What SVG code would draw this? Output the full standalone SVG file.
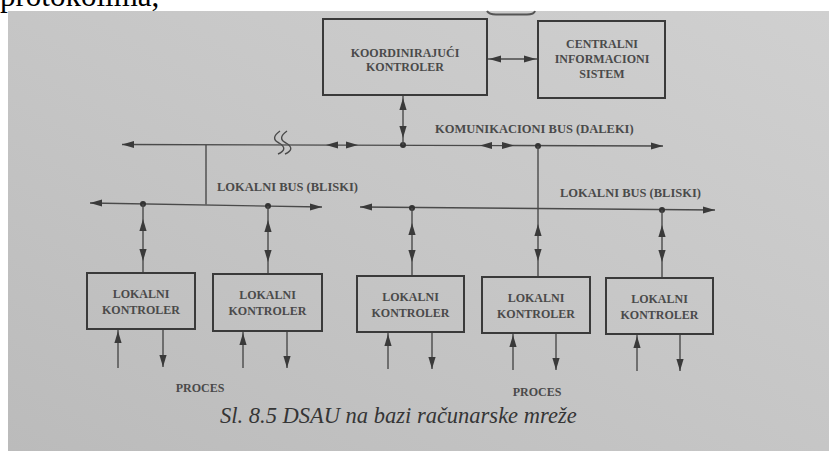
<svg xmlns="http://www.w3.org/2000/svg" xmlns:xlink="http://www.w3.org/1999/xlink" width="829" height="451" viewBox="0 0 829 451">
  <defs>
    <linearGradient id="paper" x1="1" y1="0" x2="0" y2="1">
      <stop offset="0" stop-color="#d0d0d0"/>
      <stop offset="0.5" stop-color="#c6c6c6"/>
      <stop offset="1" stop-color="#bbbbbb"/>
    </linearGradient>
    <!-- arrowhead, tip at origin, pointing +x -->
    <path id="ah" d="M0 0 L-12 -3.6 L-12 3.6 Z" fill="#3a3a3a"/>
    <style>
      .box { fill: none; stroke: #3a3a3a; stroke-width: 2; }
      .ln { fill: none; stroke: #4a4a4a; stroke-width: 1.4; }
      .dot { fill: #333; }
      text { font-family: 'Liberation Serif', 'Times New Roman', 'DejaVu Serif', serif; }
      .lbl { font-weight: bold; font-size: 12px; fill: #4a4a4a; text-anchor: middle; }
      .bus { font-weight: bold; font-size: 12.5px; fill: #4a4a4a; }
      .cap { font-style: italic; font-size: 22.5px; fill: #353535; }
    </style>
  </defs>

  <!-- page -->
  <rect x="0" y="0" width="829" height="451" fill="#ffffff"/>
  <text x="0" y="6" font-family="'Liberation Serif', serif" font-size="31" fill="#000">protokolima,</text>
  <rect x="8" y="11" width="821" height="440" fill="url(#paper)"/>
  <path d="M487 11 Q489 14.5 496 14.5 L527 14.5 Q534 14.5 535 11" fill="none" stroke="#555" stroke-width="2"/>

  <!-- connectors -->
  <g id="connectors">
    <!-- komunikacioni bus -->
    <line class="ln" x1="122" y1="144.5" x2="663" y2="146"/>
    <use xlink:href="#ah" transform="translate(122,144.5) rotate(180)"/>
    <use xlink:href="#ah" transform="translate(663,146)"/>
    <use xlink:href="#ah" transform="translate(326,145) rotate(180)"/>
    <use xlink:href="#ah" transform="translate(358,145)"/>
    <use xlink:href="#ah" transform="translate(480,145.5) rotate(180)"/>
    <use xlink:href="#ah" transform="translate(514,145.5)"/>
    <path class="ln" d="M280 131 C273 136 273 140 279 143 C286 147 285 151 278 154"/>
    <path class="ln" d="M287 131 C280 136 280 140 286 143 C293 147 292 151 285 154"/>
    <circle class="dot" cx="403" cy="145" r="3"/>
    <circle class="dot" cx="538" cy="146" r="3"/>

    <!-- koordinirajuci to bus -->
    <line class="ln" x1="403" y1="95" x2="403" y2="145"/>
    <use xlink:href="#ah" transform="translate(403,98) rotate(-90)"/>
    <use xlink:href="#ah" transform="translate(403,138) rotate(90)"/>

    <!-- koordinirajuci to centralni -->
    <line class="ln" x1="487" y1="59" x2="538" y2="59"/>
    <use xlink:href="#ah" transform="translate(489,59) rotate(180)"/>
    <use xlink:href="#ah" transform="translate(536,59)"/>

    <!-- left local bus -->
    <line class="ln" x1="206" y1="145" x2="206" y2="204.5"/>
    <line class="ln" x1="90" y1="203" x2="322" y2="207"/>
    <use xlink:href="#ah" transform="translate(90,203) rotate(180)"/>
    <use xlink:href="#ah" transform="translate(322,207)"/>
    <circle class="dot" cx="143" cy="204" r="3"/>
    <circle class="dot" cx="268" cy="206" r="3"/>

    <!-- right local bus -->
    <line class="ln" x1="360" y1="207" x2="715" y2="210"/>
    <use xlink:href="#ah" transform="translate(360,207) rotate(180)"/>
    <use xlink:href="#ah" transform="translate(715,210)"/>
    <circle class="dot" cx="412" cy="208" r="3"/>
    <circle class="dot" cx="662" cy="210" r="3"/>

    <!-- drops to local controllers -->
    <line class="ln" x1="143" y1="204" x2="143" y2="273"/>
    <use xlink:href="#ah" transform="translate(143,219) rotate(-90)"/>
    <use xlink:href="#ah" transform="translate(143,261) rotate(90)"/>
    <line class="ln" x1="268" y1="206" x2="268" y2="274"/>
    <use xlink:href="#ah" transform="translate(268,220) rotate(-90)"/>
    <use xlink:href="#ah" transform="translate(268,262) rotate(90)"/>
    <line class="ln" x1="412" y1="208" x2="412" y2="276"/>
    <use xlink:href="#ah" transform="translate(412,223) rotate(-90)"/>
    <use xlink:href="#ah" transform="translate(412,262) rotate(90)"/>
    <line class="ln" x1="538" y1="146" x2="538" y2="277"/>
    <use xlink:href="#ah" transform="translate(538,224) rotate(-90)"/>
    <use xlink:href="#ah" transform="translate(538,261) rotate(90)"/>
    <line class="ln" x1="662" y1="210" x2="662" y2="278"/>
    <use xlink:href="#ah" transform="translate(662,225) rotate(-90)"/>
    <use xlink:href="#ah" transform="translate(662,262) rotate(90)"/>

    <!-- process signals -->
    <line class="ln" x1="118" y1="368" x2="118" y2="329"/>
    <use xlink:href="#ah" transform="translate(118,331) rotate(-90)"/>
    <line class="ln" x1="163" y1="329" x2="163" y2="367"/>
    <use xlink:href="#ah" transform="translate(163,367) rotate(90)"/>
    <line class="ln" x1="243" y1="368" x2="243" y2="331"/>
    <use xlink:href="#ah" transform="translate(243,333) rotate(-90)"/>
    <line class="ln" x1="287" y1="331" x2="287" y2="368"/>
    <use xlink:href="#ah" transform="translate(287,368) rotate(90)"/>
    <line class="ln" x1="388" y1="369" x2="388" y2="332"/>
    <use xlink:href="#ah" transform="translate(388,334) rotate(-90)"/>
    <line class="ln" x1="432" y1="332" x2="432" y2="369"/>
    <use xlink:href="#ah" transform="translate(432,369) rotate(90)"/>
    <line class="ln" x1="513" y1="370" x2="513" y2="333"/>
    <use xlink:href="#ah" transform="translate(513,335) rotate(-90)"/>
    <line class="ln" x1="556" y1="333" x2="556" y2="370"/>
    <use xlink:href="#ah" transform="translate(556,370) rotate(90)"/>
    <line class="ln" x1="637" y1="371" x2="637" y2="334"/>
    <use xlink:href="#ah" transform="translate(637,336) rotate(-90)"/>
    <line class="ln" x1="680" y1="334" x2="680" y2="371"/>
    <use xlink:href="#ah" transform="translate(680,371) rotate(90)"/>
  </g>

  <!-- bus labels -->
  <text class="bus" x="435" y="133">KOMUNIKACIONI BUS (DALEKI)</text>
  <text class="bus" x="217" y="191">LOKALNI BUS (BLISKI)</text>
  <text class="bus" x="560" y="197">LOKALNI BUS (BLISKI)</text>

  <!-- nodes -->
  <g id="koordinirajuci">
    <rect class="box" x="323" y="19" width="164" height="76"/>
    <text class="lbl" x="405" y="57">KOORDINIRAJUĆI</text>
    <text class="lbl" x="405" y="71">KONTROLER</text>
  </g>
  <g id="centralni">
    <rect class="box" x="538" y="21" width="127" height="77"/>
    <text class="lbl" x="602" y="48">CENTRALNI</text>
    <text class="lbl" x="602" y="63">INFORMACIONI</text>
    <text class="lbl" x="602" y="78">SISTEM</text>
  </g>
  <g id="lokalni1">
    <rect class="box" x="87" y="273" width="108" height="56"/>
    <text class="lbl" x="141" y="298">LOKALNI</text>
    <text class="lbl" x="141" y="314">KONTROLER</text>
  </g>
  <g id="lokalni2">
    <rect class="box" x="213" y="274" width="109" height="57"/>
    <text class="lbl" x="267.5" y="299">LOKALNI</text>
    <text class="lbl" x="267.5" y="315">KONTROLER</text>
  </g>
  <g id="lokalni3">
    <rect class="box" x="357" y="276" width="107" height="56"/>
    <text class="lbl" x="410.5" y="301">LOKALNI</text>
    <text class="lbl" x="410.5" y="317">KONTROLER</text>
  </g>
  <g id="lokalni4">
    <rect class="box" x="482" y="277" width="108" height="56"/>
    <text class="lbl" x="536" y="302">LOKALNI</text>
    <text class="lbl" x="536" y="318">KONTROLER</text>
  </g>
  <g id="lokalni5">
    <rect class="box" x="606" y="278" width="107" height="56"/>
    <text class="lbl" x="659.5" y="303">LOKALNI</text>
    <text class="lbl" x="659.5" y="319">KONTROLER</text>
  </g>

  <!-- process labels and caption -->
  <text class="lbl" x="200" y="392">PROCES</text>
  <text class="lbl" x="537" y="396">PROCES</text>
  <text class="cap" x="220" y="423">Sl. 8.5 DSAU na bazi računarske mreže</text>
</svg>
